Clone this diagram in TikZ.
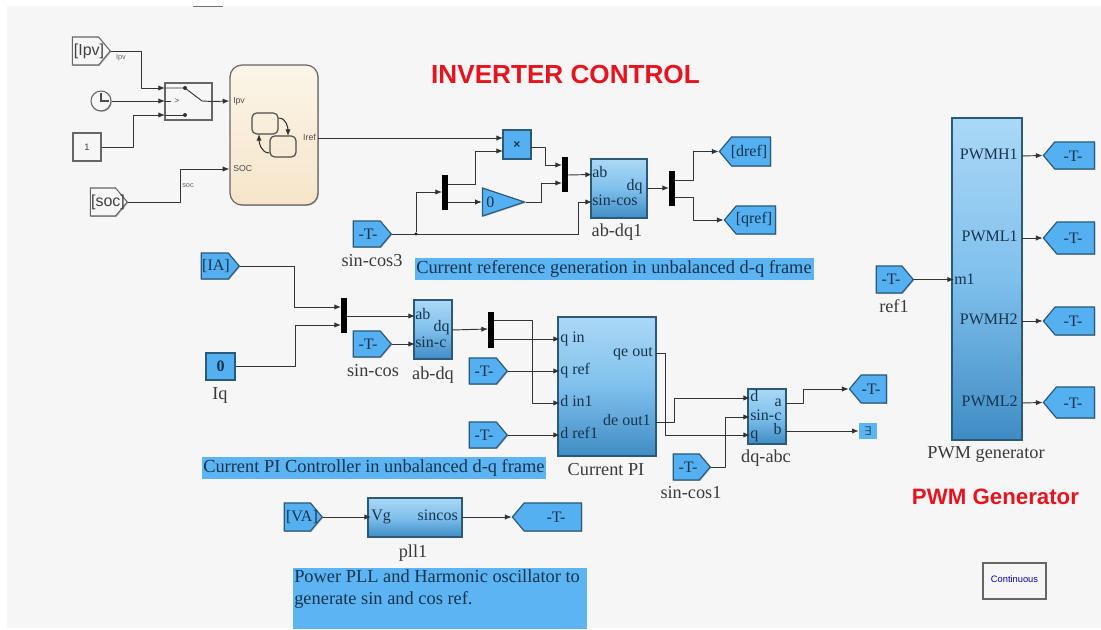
\documentclass[tikz,border=0pt]{standalone}
\usepackage{fontspec}
\setmainfont{Liberation Serif}
\newfontfamily\arialf{Liberation Sans}
\newfontfamily\symf{DejaVu Sans}
\usetikzlibrary{arrows.meta,calc,shapes.geometric,shapes.symbols,shadows}
\definecolor{bgc}{HTML}{F6F6F7}
\definecolor{wirec}{HTML}{333333}
\definecolor{edgec}{HTML}{2B5A78}
\definecolor{tagc}{HTML}{55B0F1}
\definecolor{bannerc}{HTML}{5CB4F3}
\definecolor{navyc}{HTML}{16344D}
\definecolor{labelc}{HTML}{3A3A3A}
\definecolor{redc}{HTML}{E5141E}
\definecolor{blockT}{HTML}{ABD8F6}
\definecolor{blockM}{HTML}{7FC0EC}
\definecolor{blockB}{HTML}{3F8CC4}
\definecolor{chartT}{HTML}{FBF5E9}
\definecolor{chartB}{HTML}{F6E5CA}
\tikzset{
  softshadow/.style={drop shadow={shadow xshift=.7pt,shadow yshift=-.7pt,fill=black,opacity=.25}},
  wire/.style={draw=wirec,line width=.7pt,line join=round,-{Latex[length=5pt,width=4pt]}},
  plainwire/.style={draw=wirec,line width=.7pt,line join=round},
  bluegrad/.style={rectangle,draw=edgec,line width=.9pt,top color=blockT,bottom color=blockB,middle color=blockM,inner sep=0pt,softshadow},
  flatblue/.style={rectangle,draw=edgec,line width=.9pt,fill=tagc,inner sep=0pt,softshadow},
  whitebox/.style={rectangle,draw=black!60,line width=.8pt,fill=bgc,inner sep=0pt,softshadow},
  barnode/.style={rectangle,fill=black,inner sep=0pt},
  tagright/.style={signal,signal to=east,signal from=nowhere,signal pointer angle=100,draw=edgec,line width=.9pt,fill=tagc,inner sep=0pt,softshadow},
  tagleft/.style={signal,signal to=west,signal from=nowhere,signal pointer angle=100,draw=edgec,line width=.9pt,fill=tagc,inner sep=0pt,softshadow},
  tagwhite/.style={signal,signal to=east,signal from=nowhere,signal pointer angle=100,draw=black!60,line width=.8pt,fill=bgc,inner sep=0pt,softshadow},
  tagtext/.style={text=navyc,inner sep=0pt,font=\fontsize{12}{14}\selectfont},
  sanstag/.style={text=black!75,inner sep=0pt,font=\arialf\fontsize{12}{14}\selectfont},
  portw/.style={text=navyc,inner sep=0pt,anchor=west,text height=7pt,text depth=2pt,font=\fontsize{12}{14}\selectfont},
  porte/.style={text=navyc,inner sep=0pt,anchor=east,text height=7pt,text depth=2pt,font=\fontsize{12}{14}\selectfont},
  blabel/.style={text=labelc,inner sep=0pt,font=\fontsize{13.7}{15}\selectfont},
  banner/.style={text=navyc,inner sep=0pt,anchor=west,font=\fontsize{13.8}{16.5}\selectfont},
  tinylabel/.style={text=black!60,inner sep=0pt,font=\arialf\fontsize{5.5}{6}\selectfont},
  chartport/.style={text=black!70,inner sep=0pt,font=\arialf\fontsize{6.5}{7}\selectfont},
  statebox/.style={rectangle,rounded corners=3.5pt,draw=black!70,line width=.9pt,inner sep=0pt},
  dotnode/.style={circle,fill=black,inner sep=0pt,minimum size=2.6pt},
  titlered/.style={text=redc,inner sep=0pt,font=\arialf\bfseries\fontsize{19.6}{22}\selectfont},
  subtitlered/.style={text=redc,inner sep=0pt,font=\arialf\bfseries\fontsize{16.7}{19}\selectfont},
}
% style, x1, y1, x2, y2, name
\newcommand{\pxbox}[6]{\node[#1,minimum width={(#4-#2)*0.75pt},minimum height={(#5-#3)*0.75pt}] (#6) at ({(#2+#4)/2},{(#3+#5)/2}) {};}
\newcommand{\pxtag}[6]{\node[#1,anchor=east,minimum width={(#4-#2)*0.75pt},minimum height={(#5-#3)*0.75pt}] (#6) at (#4,{(#3+#5)/2}) {};}
\newcommand{\hvh}[3]{\draw[wire] (#1) -- (#1 -| #2) -- (#2 |- #3) -- (#3);}
\begin{document}
\begin{tikzpicture}[x=0.75pt,y=-0.75pt]
\useasboundingbox (0,0) rectangle (1101,630);
\fill[bgc] (7,6) rectangle (1101,628);
\draw[black!55,line width=1pt] (193,6.5) -- (223,6.5);

% titles
\node[titlered] (title) at (565.5,75) {INVERTER CONTROL};
\node[subtitlered] (subtitle) at (995.5,497) {PWM Generator};

% top-left sources
\pxtag{tagwhite}{73}{37}{111}{65}{ipv}
\node[sanstag] (ipvt) at (89,51) {[Ipv]};
\node[circle,draw=black!60,line width=.8pt,fill=bgc,minimum size=15pt,inner sep=0pt,softshadow] (clock) at (101,101) {};
\draw[black!70,line width=.8pt] (101,93) -- (clock.center) -- (109,101);
\pxbox{whitebox}{73}{133}{101}{161}{const}
\node[sanstag,font=\arialf\fontsize{7}{8}\selectfont] (constt) at (87,147) {1};
\pxtag{tagwhite}{91}{188}{128}{216}{soc}
\node[sanstag] (soct) at (108,202) {[soc]};
\pxbox{whitebox}{165}{83}{212}{120}{switch}
\coordinate (swa) at (165,88);
\coordinate (swb) at (165,101);
\coordinate (swc) at (165,115);
\node[chartport,font=\arialf\fontsize{6}{7}\selectfont] (swt) at (177,101) {>};
\draw[plainwire] (swa) -- (185,88) -- (202,101) -- (switch.east);
\draw[plainwire] (swb) -- (171,101);
\draw[plainwire] (swc) -- (185,115);
\fill[wirec] (185,88) circle (1.5pt) (185,115) circle (1.5pt);

% chart
\node[rectangle,rounded corners=9pt,draw=black!60,line width=.9pt,top color=chartT,bottom color=chartB,inner sep=0pt,minimum width={88*0.75pt},minimum height={140*0.75pt},softshadow] (chart) at (274,135) {};
\pxbox{statebox}{252}{113}{278}{134}{st1}
\pxbox{statebox}{270}{136}{296}{157}{st2}
\draw[wire,line width=.8pt] (st1.east |- 0,118) to[out=0,in=90] (288,136);
\draw[wire,line width=.8pt] (st2.west |- 0,153) to[out=180,in=-90] (259,134);
\node[chartport,anchor=west] (cipv) at (233,101) {Ipv};
\node[chartport,anchor=west] (csoc) at (233,169) {SOC};
\node[chartport,anchor=east] (ciref) at (316,137) {Iref};
\coordinate (chipv) at (chart.west |- cipv);
\coordinate (chsoc) at (chart.west |- csoc);
\coordinate (chref) at (318,138);

\coordinate (bend1) at (141,0);
\coordinate (bend2) at (133,0);
\coordinate (bend3) at (180,0);
\hvh{ipv.east}{bend1}{swa}
\draw[wire] (clock.east) -- (swb);
\hvh{const.east}{bend2}{swc}
\hvh{soc.east}{bend3}{chsoc}
\draw[wire] (switch.east) -- (chipv);
\node[tinylabel] (wipv) at (121,58) {Ipv};
\node[tinylabel] (wsoc) at (188,186) {soc};

% reference generation
\pxbox{flatblue}{503}{130}{531}{159}{prod}
\node[text=navyc,inner sep=0pt,font=\arialf\bfseries\fontsize{9}{10}\selectfont] (prodt) at (517,145) {×};
\coordinate (proda) at (503,138);
\coordinate (prodb) at (503,151);
\coordinate (prodo) at (531,147);
\pxbox{barnode}{442}{175}{448}{210}{mux1}
\coordinate (mux1i) at (442,192);
\coordinate (mux1a) at (448,184);
\coordinate (mux1b) at (448,202);
\node[isosceles triangle,isosceles triangle stretches,shape border rotate=0,draw=edgec,line width=.9pt,fill=tagc,inner sep=0pt,minimum width={28*0.75pt},minimum height={42*0.75pt},anchor=east,softshadow] (gain) at (526,202) {};
\node[tagtext,anchor=west] (gaint) at (486,202) {0};
\pxbox{barnode}{562}{157}{568}{192}{mux2}
\coordinate (mux2a) at (562,165);
\coordinate (mux2b) at (562,183);
\coordinate (mux2o) at (568,175);
\pxbox{bluegrad}{591}{159}{647}{218}{abdqone}
\node[portw] (p1ab) at (592,174.5) {ab};
\node[portw] (p1sc) at (592,202) {sin-cos};
\node[porte] (p1dq) at (643,187) {dq};
\coordinate (p1out) at (647,188);
\node[blabel] (abdqonel) at (617,232) {ab-dq1};
\pxbox{barnode}{669}{171}{675}{206}{mux3}
\coordinate (mux3i) at (669,188);
\coordinate (mux3a) at (675,180);
\coordinate (mux3b) at (675,197);
\pxtag{tagleft}{720}{137}{771}{166}{dref}
\node[tagtext] (dreft) at (749,151.5) {[dref]};
\pxtag{tagleft}{725}{206}{776}{234}{qref}
\node[tagtext] (qreft) at (754,220) {[qref]};
\pxtag{tagright}{354}{221}{392}{247}{sc3}
\node[tagtext] (sc3t) at (368,234) {-T-};
\node[blabel] (sc3l) at (372,261) {sin-cos3};
\node[dotnode] (jn) at (416,234) {};

\coordinate (bend4) at (578,0);
\coordinate (bend5) at (475,0);
\coordinate (bend6) at (545,0);
\coordinate (bend7) at (541,0);
\coordinate (bend8) at (693,0);
\hvh{sc3.east}{bend4}{p1sc.west}
\draw[wire] (jn) |- (mux1i);
\draw[wire] (chref) -- (proda);
\hvh{mux1a}{bend5}{prodb}
\draw[wire] (mux1b) -- (gain.west);
\hvh{prodo}{bend6}{mux2a}
\hvh{gain.east}{bend7}{mux2b}
\draw[wire] (mux2o) -- (p1ab.west);
\draw[wire] (p1out) -- (mux3i);
\hvh{mux3a}{bend8}{dref.west}
\hvh{mux3b}{bend8}{qref.west}

\node[fill=bannerc,inner sep=0pt,minimum width={399*0.75pt},minimum height={22*0.75pt}] (ban1) at (614.5,269) {};
\node[banner] (ban1t) at (416,269) {Current reference generation in unbalanced d-q frame};

% current PI
\pxtag{tagright}{202}{253}{240}{279}{ia}
\node[tagtext] (iat) at (216,266) {[IA]};
\pxbox{flatblue}{206}{353}{235}{380}{iq}
\node[tagtext,font=\bfseries\fontsize{12}{14}\selectfont] (iqt) at (220.5,366.5) {0};
\node[blabel] (iql) at (220,395) {Iq};
\pxbox{barnode}{341}{298}{347}{333}{mux4}
\coordinate (mux4a) at (341,307);
\coordinate (mux4b) at (341,325);
\coordinate (mux4o) at (347,316);
\pxtag{tagright}{354}{331}{392}{357}{sc}
\node[tagtext] (sct) at (368,344) {-T-};
\node[blabel] (scl) at (373,371) {sin-cos};
\pxbox{bluegrad}{414}{300}{452}{359}{abdq}
\node[portw] (pab) at (415,316) {ab};
\node[portw] (psc) at (415,344) {sin-c};
\node[porte] (pdq) at (450,328) {dq};
\coordinate (pout) at (452,330);
\node[blabel] (abdql) at (433,375) {ab-dq};
\pxbox{barnode}{488}{312}{494}{348}{mux5}
\coordinate (mux5i) at (488,329);
\coordinate (mux5a) at (494,320);
\coordinate (mux5b) at (494,339);
\pxtag{tagright}{470}{358}{508}{384}{tq}
\node[tagtext] (tqt) at (484,371) {-T-};
\pxtag{tagright}{470}{422}{508}{448}{td}
\node[tagtext] (tdt) at (484,435) {-T-};
\pxbox{bluegrad}{558}{317}{656}{456}{pi}
\node[portw] (piqin) at (560,339) {q in};
\node[portw] (piqref) at (560,371) {q ref};
\node[portw] (pidin) at (560,403) {d in1};
\node[portw] (pidref) at (560,435) {d ref1};
\node[porte] (piqe) at (653,353) {qe out};
\node[porte] (pide) at (651,422) {de out1};
\coordinate (piqo) at (656,353);
\coordinate (pido) at (656,422);
\node[blabel] (pil) at (606,470) {Current PI};
\node[fill=bannerc,inner sep=0pt,minimum width={344*0.75pt},minimum height={22*0.75pt}] (ban2) at (374,468) {};
\node[banner] (ban2t) at (203,468) {Current PI Controller in unbalanced d-q frame};

\coordinate (bend9) at (294,0);
\coordinate (bend10) at (295,0);
\coordinate (bend11) at (532,0);
\coordinate (bend12) at (665,0);
\coordinate (bend13) at (674,0);
\coordinate (bend14) at (725,0);
\coordinate (bend15) at (803,0);
\hvh{ia.east}{bend9}{mux4a}
\hvh{iq.east}{bend10}{mux4b}
\draw[wire] (mux4o) -- (pab.west);
\draw[wire] (sc.east) -- (psc.west);
\draw[wire] (pout) -- (mux5i);
\hvh{mux5a}{bend11}{pidin.west}
\draw[wire] (mux5b) -- (piqin.west);
\draw[wire] (tq.east) -- (piqref.west);
\draw[wire] (td.east) -- (pidref.west);

% dq-abc
\pxbox{bluegrad}{748}{389}{786}{444}{dqabc}
\node[portw] (dd) at (750,398) {d};
\node[portw] (dsc) at (750,417) {sin-c};
\node[portw] (dq) at (750,435) {q};
\node[porte] (da) at (782,403) {a};
\node[porte] (db) at (782,431) {b};
\coordinate (dao) at (786,403);
\coordinate (dbo) at (786,431);
\node[blabel] (dqabcl) at (766,458) {dq-abc};
\pxtag{tagright}{674}{454}{711}{480}{sc1}
\node[tagtext] (sc1t) at (688,467) {-T-};
\node[blabel] (sc1l) at (691,493) {sin-cos1};
\pxtag{tagleft}{850}{375}{887}{403}{ta}
\node[tagtext] (tat) at (871,389) {-T-};
\node[fill=bannerc,inner sep=0pt,minimum width={18*0.75pt},minimum height={16*0.75pt}] (term) at (868,431) {};
\node[text=edgec,inner sep=0pt,font=\symf\fontsize{9}{10}\selectfont] (termt) at (868,431) {∃};

\hvh{piqo}{bend12}{dq.west}
\hvh{pido}{bend13}{dd.west}
\hvh{sc1.east}{bend14}{dsc.west}
\hvh{dao}{bend15}{ta.west}
\draw[wire] (dbo) -- (term.west);

% PLL
\pxtag{tagright}{285}{503}{323}{531}{va}
\node[tagtext] (vat) at (302,517) {[VA]};
\pxbox{bluegrad}{368}{498}{462}{537}{pll}
\node[portw] (pvg) at (371,517) {Vg};
\node[porte] (psin) at (458,517) {sincos};
\coordinate (pllo) at (462,517);
\node[blabel] (plll) at (413,553) {pll1};
\pxtag{tagleft}{513}{503}{582}{531}{tpll}
\node[tagtext] (tpllt) at (556,517) {-T-};
\draw[wire] (va.east) -- (pvg.west);
\draw[wire] (pllo) -- (tpll.west);
\node[fill=bannerc,inner sep=0pt,minimum width={294*0.75pt},minimum height={61*0.75pt}] (ban3) at (440,598.5) {};
\node[banner,align=left,anchor=north west] (ban3t) at (294,569) {Power PLL and Harmonic oscillator to\\generate sin and cos ref.};

% PWM
\pxbox{bluegrad}{952}{118}{1022}{440}{pwm}
\node[porte] (h1) at (1018,156) {PWMH1};
\node[porte] (l1) at (1018,238) {PWML1};
\node[porte] (h2) at (1018,321) {PWMH2};
\node[porte] (l2) at (1018,403) {PWML2};
\node[portw] (m1) at (954,281) {m1};
\coordinate (h1o) at (1022,156);
\coordinate (l1o) at (1022,238);
\coordinate (h2o) at (1022,321);
\coordinate (l2o) at (1022,403);
\node[blabel] (pwml) at (986,454) {PWM generator};
\pxtag{tagright}{877}{266}{914}{293}{ref}
\node[tagtext] (reft) at (891,279.5) {-T-};
\node[blabel] (refl) at (894,306) {ref1};
\pxtag{tagleft}{1044}{142}{1095}{169}{t1}
\node[tagtext] (t1t) at (1073,156) {-T-};
\pxtag{tagleft}{1044}{222}{1095}{254}{t2}
\node[tagtext] (t2t) at (1073,238) {-T-};
\pxtag{tagleft}{1044}{307}{1095}{335}{t3}
\node[tagtext] (t3t) at (1073,321) {-T-};
\pxtag{tagleft}{1044}{387}{1095}{418}{t4}
\node[tagtext] (t4t) at (1073,403) {-T-};
\draw[wire] (ref.east) -- (m1.west |- ref.east);
\draw[wire] (h1o) -- (t1.west);
\draw[wire] (l1o) -- (t2.west);
\draw[wire] (h2o) -- (t3.west);
\draw[wire] (l2o) -- (t4.west);

% continuous
\pxbox{whitebox}{983}{563}{1046}{599}{cont}
\node[text=blue!70!black,inner sep=0pt,font=\arialf\fontsize{7}{8}\selectfont] (contt) at (1014.5,579.5) {Continuous};
\end{tikzpicture}
\end{document}
